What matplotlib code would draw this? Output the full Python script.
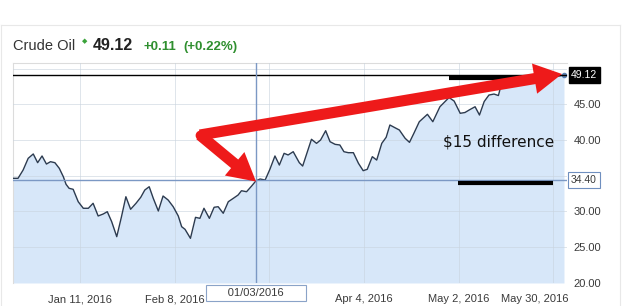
import matplotlib
matplotlib.use("Agg")
import matplotlib.pyplot as plt
import matplotlib.transforms as mtransforms
from matplotlib.lines import Line2D

plt.rcParams['font.family'] = ['Liberation Sans', 'DejaVu Sans']

# days counted from 2016-01-01, closing price in $
days = [-9.7, -8.3, -6.8, -5.3, -3.8, -2.5, -1.2, 0.1, 1.3, 2.6, 3.9, 5.1, 5.9, 6.8, 8.0,
        9.5, 11.0, 12.5, 13.9, 15.4, 16.9, 18.1, 19.4, 20.9, 22.3, 23.6, 25.0, 26.6, 28.0, 29.2,
        30.5, 31.7, 33.2, 34.6, 36.1, 37.6, 39.1, 40.1, 41.1, 42.7, 44.2, 45.5, 46.7, 48.3, 49.7,
        50.9, 52.4, 53.9, 55.4, 56.8, 57.8, 59.3, 60.8, 62.1, 63.3, 64.8, 66.2, 67.7, 69.0, 70.4,
        71.6, 73.1, 74.9, 75.9, 78.5, 80.0, 81.2, 82.7, 84.0, 85.5, 86.9, 88.1, 89.4, 90.9, 92.4,
        93.8, 95.0, 96.5, 97.8, 99.3, 100.6, 101.7, 103.2, 104.5, 106.2, 107.5, 108.8, 110.4, 112.8, 114.4,
        116.5, 119.2, 120.7, 122.5, 123.9, 125.4, 126.9, 128.2, 129.6, 131.0, 132.5, 133.8, 134.3, 136.1, 137.9,
        139.6, 141.4, 143.2, 145.0, 146.7, 148.5, 150.0, 151.5, 153.2]
closes = [34.63, 34.63, 35.79, 37.43, 38.04, 36.82, 37.76, 36.63, 36.96, 36.82, 36.03, 34.85, 33.79, 33.23, 33.09,
          31.35, 30.43, 30.43, 31.13, 29.35, 29.63, 29.95, 28.55, 26.45, 29.25, 32.05, 30.29, 31.13, 31.97, 32.99,
          33.45, 31.83, 30.05, 32.15, 31.59, 30.65, 29.35, 27.85, 27.48, 26.22, 29.16, 29.02, 30.43, 29.02, 30.57,
          30.65, 29.73, 31.35, 31.83, 32.29, 32.89, 32.75, 33.55, 34.29, 34.53, 34.39, 35.89, 37.76, 36.49, 38.13,
          37.90, 38.36, 36.82, 36.35, 40.10, 39.53, 40.00, 41.30, 39.76, 39.39, 39.30, 38.36, 38.22, 38.22, 36.73,
          35.70, 35.89, 37.66, 37.19, 39.53, 40.38, 42.10, 41.72, 41.40, 40.24, 39.67, 40.94, 42.56, 43.60, 42.56,
          44.66, 45.95, 45.46, 43.74, 43.85, 44.27, 44.66, 43.50, 45.39, 46.30, 46.44, 46.23, 47.14, 47.85, 47.99,
          48.27, 48.27, 48.41, 48.62, 48.83, 48.90, 49.11, 48.95, 49.12]

tick_days = [10, 38, 66, 94, 122, 150]
# the Mar 7 label is hidden behind the crosshair date box in the original
tick_labels = ["Jan 11, 2016", "Feb 8, 2016", "", "Apr 4, 2016", "May 2, 2016", "May 30, 2016"]
price_ticks = [20, 25, 30, 35, 40, 45, 50]
price_labels = ["20.00", "25.00", "30.00", "", "40.00", "45.00", ""]

last_price = 49.12
cross_price = 34.40
cross_day = 62.1
cross_label = "01/03/2016"

# hand drawn annotations
arrow_corner = (45.5, 40.70)
arrow_tips = [(62.1, 34.18), (152.6, 49.25)]
bar_top = ([119.2, 145.2], [48.64, 48.64])
bar_low = ([121.9, 150.0], [34.01, 34.01])
note_text = "\\$15 difference"
note_pos = (134.0, 39.76)

fig = plt.figure(figsize=(6.25, 3.06), dpi=100)
ax = fig.add_axes([0.0213, 0.0752, 0.8854, 0.7189])
ax.set_xlim(-9.7, 154.0)
ax.set_ylim(19.96, 50.79)

fill_col = '#d7e7f9'
ax.fill_between(days, closes, 19.96, color=fill_col, lw=0, zorder=1)
ax.plot(days, closes, color='#2c3b50', lw=1.0, zorder=3)
ax.plot(days[-1], closes[-1], 'o', ms=3, color='#5b7fb0', zorder=4)

ax.set_xticks(tick_days)
ax.set_xticklabels(tick_labels)
ax.set_yticks(price_ticks)
ax.set_yticklabels(price_labels)
ax.yaxis.tick_right()
ax.tick_params(axis='both', length=0, labelsize=8, colors='#3a3a3a')
ax.tick_params(axis='x', pad=8)
ax.tick_params(axis='y', pad=5)
ax.grid(True, color='#c9d3de', lw=0.6, alpha=0.7, zorder=2)
ax.set_axisbelow(False)
for l in ax.get_xgridlines() + ax.get_ygridlines():
    l.set_zorder(2)
for s in ['right', 'bottom']:
    ax.spines[s].set_visible(False)
for s in ['top', 'left']:
    ax.spines[s].set_color('#dcdcdc')
    ax.spines[s].set_linewidth(0.8)

# last May label sits against the edge
lbl = ax.get_xticklabels()[-1]
lbl.set_horizontalalignment('right')
lbl.set_transform(lbl.get_transform() + mtransforms.ScaledTranslation(0.15, 0, fig.dpi_scale_trans))

# price lines
ax.axhline(last_price, color='black', lw=1.0, zorder=4)
ax.axhline(cross_price, color='#7b98c4', lw=1.0, zorder=4)
ax.axvline(cross_day, color='#7b98c4', lw=1.0, zorder=4)

ytr = ax.get_yaxis_transform()
ax.text(1.008, last_price, f"{last_price:.2f}", transform=ytr, ha='left', va='center',
        fontsize=7.5, color='white', clip_on=False,
        bbox=dict(boxstyle='square,pad=0.25', fc='black', ec='black'))
ax.text(1.008, cross_price, f"{cross_price:.2f}", transform=ytr, ha='left', va='center',
        fontsize=7.5, color='#3a3a3a', clip_on=False,
        bbox=dict(boxstyle='square,pad=0.3', fc='white', ec='#6f8fbf', lw=0.8))
xtr = ax.get_xaxis_transform()
ax.text(cross_day, -0.045, "      " + cross_label + "      ", transform=xtr, ha='center', va='center',
        fontsize=8, color='#3a3a3a', clip_on=False, zorder=10,
        bbox=dict(boxstyle='square,pad=0.3', fc='white', ec='#8aa3c8', lw=0.8))

# annotations
ax.plot(*bar_top, color='black', lw=3, solid_capstyle='butt', zorder=5)
ax.plot(*bar_low, color='black', lw=3, solid_capstyle='butt', zorder=5)
for tip in arrow_tips:
    ax.annotate("", xy=tip, xytext=arrow_corner, zorder=6,
                arrowprops=dict(arrowstyle="simple,head_length=1.0,head_width=1.1,tail_width=0.4",
                                mutation_scale=20, color='#ee1a1a', lw=0, shrinkA=0, shrinkB=0))
ax.plot(*arrow_corner, 'o', ms=6, color='#ee1a1a', zorder=6)
ax.text(*note_pos, note_text, ha='center', va='center', fontsize=11,
        family='DejaVu Sans', color='#111111', zorder=6)

# header
fig.text(0.0205, 0.835, "Crude Oil", fontsize=10.5, color='#333333', va='baseline')
fig.text(0.1315, 0.858, "\u25c6", fontsize=5, color='#3aa33a', va='baseline', family='DejaVu Sans')
fig.text(0.149, 0.835, f"{last_price:.2f}", fontsize=11.5, color='#222222', weight='bold', va='baseline')
fig.text(0.229, 0.835, "+0.11", fontsize=9.5, color='#2f8f2f', weight='bold', va='baseline')
fig.text(0.293, 0.835, "(+0.22%)", fontsize=9.5, color='#2f8f2f', weight='bold', va='baseline')

# container frame
fig.add_artist(Line2D([0.002, 0.992], [0.918, 0.918], color='#e8e8e8', lw=0.8))
fig.add_artist(Line2D([0.992, 0.992], [0.918, 0.0], color='#e8e8e8', lw=0.8))
fig.add_artist(Line2D([0.002, 0.002], [0.918, 0.0], color='#e8e8e8', lw=0.8))

fig.savefig("out.png", dpi=100)
